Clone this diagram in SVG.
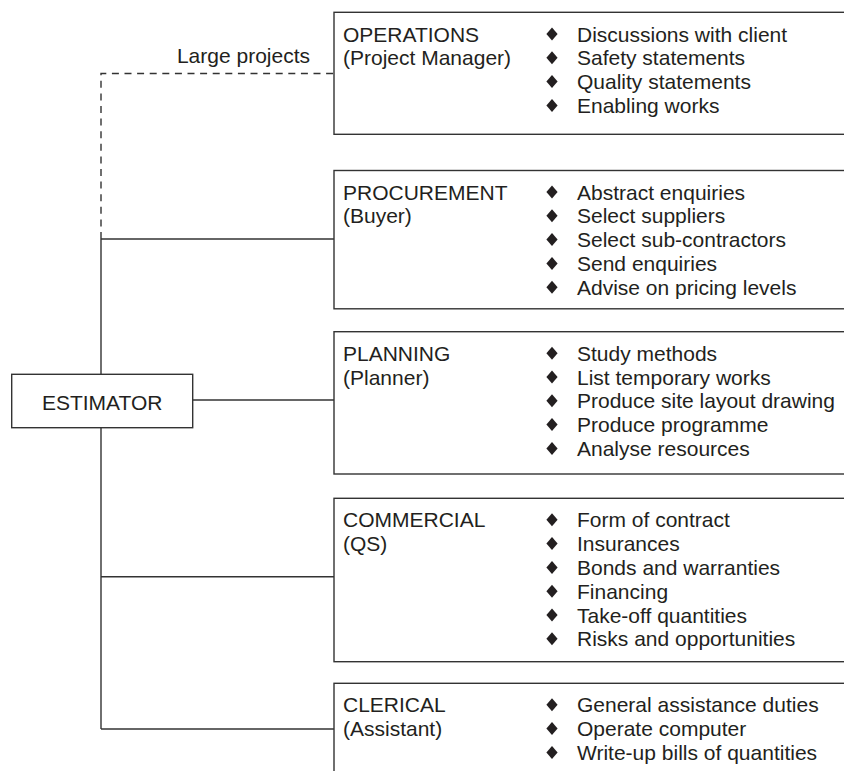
<svg xmlns="http://www.w3.org/2000/svg" width="844" height="771" viewBox="0 0 844 771">
<style>
  .box { fill: #ffffff; stroke: #333333; stroke-width: 1.4; }
  .ln { fill: none; stroke: #333333; stroke-width: 1.4; }
  .dash { fill: none; stroke: #333333; stroke-width: 1.4; stroke-dasharray: 7 5.6; }
  text { font-family: "Liberation Sans", Arial, Helvetica, sans-serif; font-size: 21px; fill: #231f20; }
  .bul { fill: #231f20; }
</style>
<defs>
  <polygon id="d" class="bul" points="0,-6.5 5.6,0 0,6.5 -5.6,0"/>
</defs>
<rect x="0" y="0" width="844" height="771" fill="#ffffff"/>

<g id="connectors">
  <polyline class="dash" points="101,239 101,73.5 334,73.5"/>
  <line class="ln" x1="101" y1="239" x2="334" y2="239"/>
  <line class="ln" x1="101" y1="239" x2="101" y2="374.3"/>
  <line class="ln" x1="101" y1="427.7" x2="101" y2="729"/>
  <line class="ln" x1="192.7" y1="400" x2="334" y2="400"/>
  <line class="ln" x1="101" y1="576.7" x2="334" y2="576.7"/>
  <line class="ln" x1="101" y1="729" x2="334" y2="729"/>
  <text x="310" y="63.3" text-anchor="end">Large projects</text>
</g>

<g id="estimator">
  <rect class="box" x="11.7" y="374.3" width="181" height="53.4"/>
  <text x="102.2" y="410" text-anchor="middle">ESTIMATOR</text>
</g>

<g id="operations">
  <rect class="box" x="334" y="12.3" width="530" height="122"/>
  <text x="343" y="41.5">OPERATIONS</text>
  <text x="343" y="65.3">(Project Manager)</text>
  <use href="#d" x="552" y="34"/>
  <use href="#d" x="552" y="57.8"/>
  <use href="#d" x="552" y="81.6"/>
  <use href="#d" x="552" y="105.4"/>
  <text x="577" y="41.5">Discussions with client</text>
  <text x="577" y="65.3">Safety statements</text>
  <text x="577" y="89.1">Quality statements</text>
  <text x="577" y="112.9">Enabling works</text>
</g>

<g id="procurement">
  <rect class="box" x="334" y="170.5" width="530" height="138.3"/>
  <text x="343" y="199.5">PROCUREMENT</text>
  <text x="343" y="223.3">(Buyer)</text>
  <use href="#d" x="552" y="192"/>
  <use href="#d" x="552" y="215.8"/>
  <use href="#d" x="552" y="239.6"/>
  <use href="#d" x="552" y="263.4"/>
  <use href="#d" x="552" y="287.2"/>
  <text x="577" y="199.5">Abstract enquiries</text>
  <text x="577" y="223.3">Select suppliers</text>
  <text x="577" y="247.1">Select sub-contractors</text>
  <text x="577" y="270.9">Send enquiries</text>
  <text x="577" y="294.7">Advise on pricing levels</text>
</g>

<g id="planning">
  <rect class="box" x="334" y="331.7" width="530" height="142.3"/>
  <text x="343" y="360.7">PLANNING</text>
  <text x="343" y="384.5">(Planner)</text>
  <use href="#d" x="552" y="353.2"/>
  <use href="#d" x="552" y="377"/>
  <use href="#d" x="552" y="400.8"/>
  <use href="#d" x="552" y="424.6"/>
  <use href="#d" x="552" y="448.4"/>
  <text x="577" y="360.7">Study methods</text>
  <text x="577" y="384.5">List temporary works</text>
  <text x="577" y="408.3">Produce site layout drawing</text>
  <text x="577" y="432.1">Produce programme</text>
  <text x="577" y="455.9">Analyse resources</text>
</g>

<g id="commercial">
  <rect class="box" x="334" y="498.3" width="530" height="163.4"/>
  <text x="343" y="527.3">COMMERCIAL</text>
  <text x="343" y="551.1">(QS)</text>
  <use href="#d" x="552" y="519.8"/>
  <use href="#d" x="552" y="543.6"/>
  <use href="#d" x="552" y="567.4"/>
  <use href="#d" x="552" y="591.2"/>
  <use href="#d" x="552" y="615"/>
  <use href="#d" x="552" y="638.8"/>
  <text x="577" y="527.3">Form of contract</text>
  <text x="577" y="551.1">Insurances</text>
  <text x="577" y="574.9">Bonds and warranties</text>
  <text x="577" y="598.7">Financing</text>
  <text x="577" y="622.5">Take-off quantities</text>
  <text x="577" y="646.3">Risks and opportunities</text>
</g>

<g id="clerical">
  <rect class="box" x="334" y="683.3" width="530" height="120"/>
  <text x="343" y="712.3">CLERICAL</text>
  <text x="343" y="736.1">(Assistant)</text>
  <use href="#d" x="552" y="704.8"/>
  <use href="#d" x="552" y="728.6"/>
  <use href="#d" x="552" y="752.4"/>
  <text x="577" y="712.3">General assistance duties</text>
  <text x="577" y="736.1">Operate computer</text>
  <text x="577" y="759.9">Write-up bills of quantities</text>
</g>
</svg>
